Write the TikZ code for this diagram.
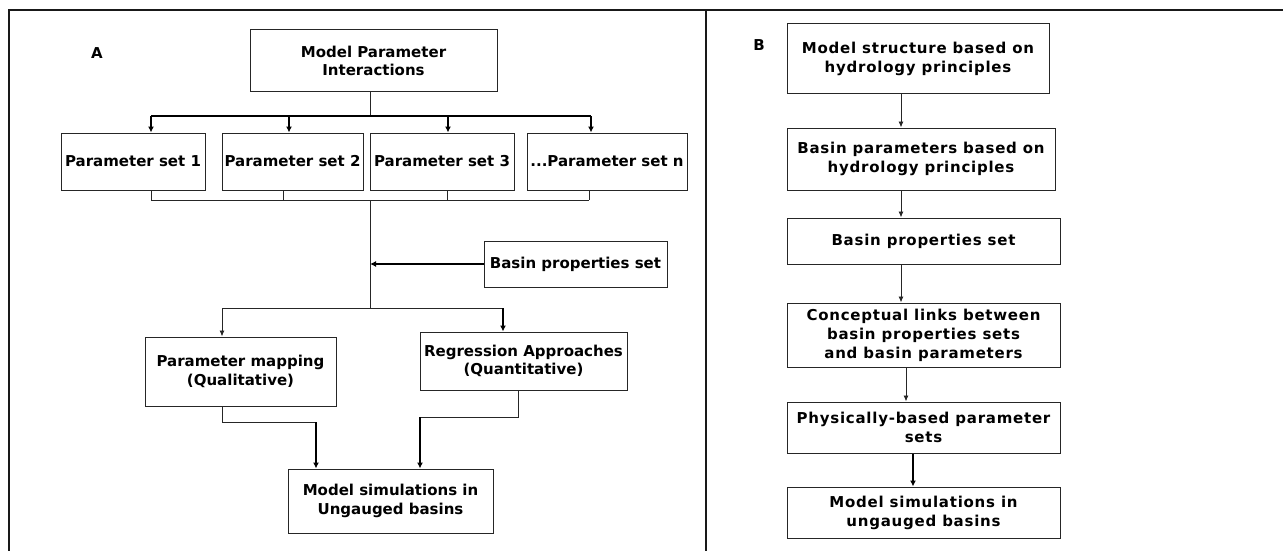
\documentclass[tikz,border=0pt]{standalone}
\usepackage{fontspec}
\setmainfont{DejaVu Sans}
\newfontfamily\spacedfont[LetterSpace=5]{DejaVu Sans}
\usetikzlibrary{arrows.meta}
\begin{document}
\begin{tikzpicture}[x=1pt,y=-1pt,
  box/.style={draw=black!85,line width=1pt,rectangle,inner sep=0pt,align=center,
    font=\fontsize{15}{18.5}\selectfont\bfseries},
  bbox/.style={box,font=\spacedfont\fontsize{15}{19}\selectfont\bfseries},
  lbl/.style={inner sep=0pt,font=\fontsize{15}{18}\selectfont\bfseries},
  thin/.style={line width=0.9pt,draw=black!85},
  thk/.style={line width=1.8pt,draw=black},
  arr/.style={thin,-{Latex[length=6pt,width=5pt]}},
  arrthk/.style={thk,-{Latex[length=6pt,width=6pt]}},
  frame/.style={line width=1.4pt,draw=black!90}]
\useasboundingbox (0,0) rectangle (1283,551);
% frame
\draw[frame] (9,551) -- (9,10) -- (1283,10);
\draw[frame] (706,10) -- (706,551);
% labels
\node[lbl] (la) at (97,53) {A};
\node[lbl] (lb) at (759,45) {B};
% Panel A
\node[box,minimum width=247pt,minimum height=62pt] (top) at (373.5,61) {Model Parameter\\Interactions};
\node[box,minimum width=144pt,minimum height=57pt] (p1) at (133,161.5) {Parameter set 1};
\node[box,minimum width=141pt,minimum height=57pt] (p2) at (292.5,161.5) {Parameter set 2};
\node[box,minimum width=144pt,minimum height=57pt] (p3) at (442,161.5) {Parameter set 3};
\node[box,minimum width=160pt,minimum height=57pt] (p4) at (607,161.5) {...Parameter set n};
\node[box,minimum width=183pt,minimum height=46pt] (bas) at (575.5,264) {Basin properties set};
\node[box,minimum width=191pt,minimum height=69pt] (pm) at (240.5,371.5) {Parameter mapping\\(Qualitative)};
\node[box,minimum width=207pt,minimum height=58pt] (rg) at (523.5,361) {Regression Approaches\\(Quantitative)};
\node[box,minimum width=205pt,minimum height=64pt] (sim) at (390.5,501) {Model simulations in\\Ungauged basins};
% junction coordinates
\coordinate (a0) at (370,116);
\coordinate (a1) at (151,116);
\coordinate (a2) at (289,116);
\coordinate (a3) at (448,116);
\coordinate (a4) at (591,116);
\coordinate (b0) at (370,200);
\coordinate (b1) at (151,200);
\coordinate (b2) at (283,200);
\coordinate (b3) at (447,200);
\coordinate (b4) at (589,200);
\coordinate (c0) at (370,308);
\coordinate (c1) at (222,308);
\coordinate (c2) at (503,308);
\coordinate (d1) at (222,422);
\coordinate (d2) at (316,422);
\coordinate (e1) at (518,417);
\coordinate (e2) at (420,417);
% connectors A
\draw[thin] (top.south -| a0) -- (a0);
\draw[thk] (a1) -- (a4);
\draw[arrthk] (a1) -- (a1 |- p1.north);
\draw[arrthk] (a2) -- (a2 |- p2.north);
\draw[arrthk] (a3) -- (a3 |- p3.north);
\draw[arrthk] (a4) -- (a4 |- p4.north);
\draw[thin] (p1.south -| b1) -- (b1);
\draw[thin] (p2.south -| b2) -- (b2);
\draw[thin] (p3.south -| b3) -- (b3);
\draw[thin] (p4.south -| b4) -- (b4);
\draw[thin] (b1) -- (b4);
\draw[thin] (b0) -- (c0);
\draw[arrthk] (bas.west) -- (bas.west -| c0);
\draw[thin] (c1) -- (c2);
\draw[arr] (c1) -- (c1 |- pm.north);
\draw[arrthk] (c2) -- (c2 |- rg.north);
\draw[thin] (pm.south -| d1) -- (d1) -- (d2);
\draw[arrthk] (d2) -- (d2 |- sim.north);
\draw[thin] (rg.south -| e1) -- (e1) -- (e2);
\draw[arrthk] (e2) -- (e2 |- sim.north);
% Panel B
\node[bbox,minimum width=262pt,minimum height=70pt] (B1) at (918,59) {Model structure based on\\hydrology principles};
\node[bbox,minimum width=268pt,minimum height=62pt] (B2) at (921,159) {Basin parameters based on\\hydrology principles};
\node[bbox,minimum width=273pt,minimum height=46pt] (B3) at (923.5,241) {Basin properties set};
\node[bbox,minimum width=273pt,minimum height=64pt] (B4) at (923.5,335) {Conceptual links between\\basin properties sets\\and basin parameters};
\node[bbox,minimum width=273pt,minimum height=51pt] (B5) at (923.5,427.5) {Physically-based parameter\\sets};
\node[bbox,minimum width=273pt,minimum height=51pt] (B6) at (923.5,512.5) {Model simulations in\\ungauged basins};
\coordinate (g1) at (901,0);
\coordinate (g2) at (906,0);
\coordinate (g3) at (913,0);
\draw[arr] (B1.south -| g1) -- (B2.north -| g1);
\draw[arr] (B2.south -| g1) -- (B3.north -| g1);
\draw[arr] (B3.south -| g1) -- (B4.north -| g1);
\draw[arr] (B4.south -| g2) -- (B5.north -| g2);
\draw[arrthk] (B5.south -| g3) -- (B6.north -| g3);
\end{tikzpicture}
\end{document}
